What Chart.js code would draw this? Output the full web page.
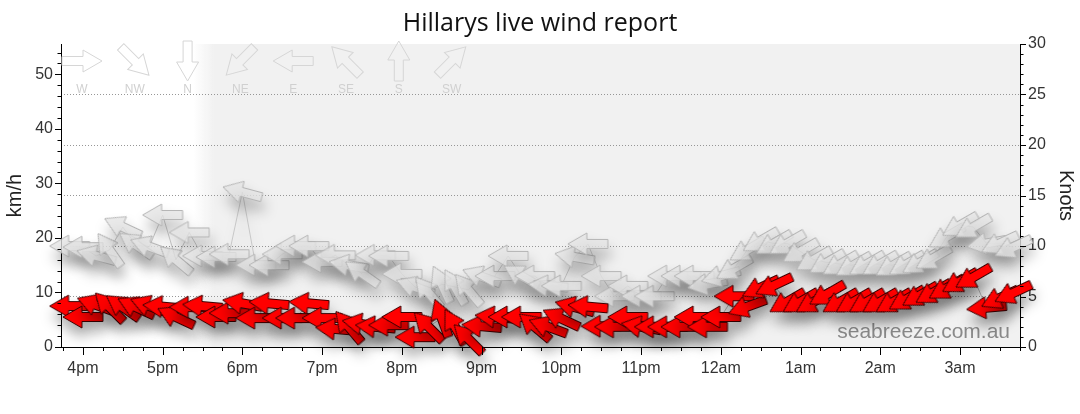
<!DOCTYPE html>
<html>
<head>
<meta charset="utf-8">
<title>Hillarys live wind report</title>
<script src="https://cdn.jsdelivr.net/npm/chart.js@4.4.1/dist/chart.umd.min.js"></script>
<style>
  html, body { margin: 0; padding: 0; background: #fff; }
  #wrap { width: 1080px; height: 414px; }
</style>
</head>
<body>
<div id="wrap"><canvas id="windChart" width="1080" height="414"></canvas></div>
<script>
// readings every 10 minutes, 3:50pm -> 3:40am
const times = [
  '15:50','16:00','16:10','16:20','16:30','16:40','16:50',
  '17:00','17:10','17:20','17:30','17:40','17:50',
  '18:00','18:10','18:20','18:30','18:40','18:50',
  '19:00','19:10','19:20','19:30','19:40','19:50',
  '20:00','20:10','20:20','20:30','20:40','20:50',
  '21:00','21:10','21:20','21:30','21:40','21:50',
  '22:00','22:10','22:20','22:30','22:40','22:50',
  '23:00','23:10','23:20','23:30','23:40','23:50',
  '00:00','00:10','00:20','00:30','00:40','00:50',
  '01:00','01:10','01:20','01:30','01:40','01:50',
  '02:00','02:10','02:20','02:30','02:40','02:50',
  '03:00','03:10','03:20','03:30','03:40'
];
// average wind, km/h and direction it blows from (degrees)
const avgKmh = [
  7.5, 5.5, 7.7, 7.3, 7.3, 7.3, 7.5,
  7.4, 5.5, 7.3, 7.5, 5.5, 6.2,
  8.0, 5.3, 8.0, 5.3, 5.3, 8.0,
  5.3, 3.3, 3.7, 4.2, 3.7, 4.0,
  5.5, 1.8, 3.7, 5.3, 3.7, 1.5,
  3.8, 5.5, 5.5, 5.5, 3.7, 3.7,
  5.2, 7.3, 7.4, 3.8, 3.7, 5.5,
  3.7, 3.7, 3.7, 3.7, 5.5, 3.7,
  5.5, 9.3, 7.4, 10.9, 11.3, 8.3,
  8.3, 8.3, 9.7, 8.3, 8.3, 8.3,
  8.3, 8.3, 8.8, 9.5, 10.0, 10.8,
  12.0, 12.8, 7.2, 9.0, 9.9
];
const avgDir = [
  90, 90, 110, 135, 125, 115, 110,
  95, 115, 90, 95, 90, 90,
  100, 90, 95, 90, 90, 95,
  90, 95, 140, 100, 95, 90,
  90, 90, 135, 160, 150, 135,
  95, 95, 90, 90, 130, 110,
  115, 105, 95, 90, 90, 90,
  100, 90, 90, 90, 90, 90,
  90, 90, 70, 65, 65, 60,
  60, 60, 60, 60, 60, 60,
  60, 60, 60, 60, 60, 60,
  60, 60, 85, 65, 65
];
// gusts
const gustKmh = [
  18.5, 18.3, 16.7, 17.8, 22.0, 18.7, 18.4,
  24.2, 16.0, 21.0, 16.7, 16.5, 17.0,
  28.4, 15.0, 15.0, 17.0, 18.5, 18.5,
  15.6, 16.8, 15.0, 13.5, 16.8, 16.7,
  13.4, 11.0, 10.0, 11.5, 11.0, 10.5,
  12.9, 13.0, 16.7, 13.0, 13.0, 11.2,
  11.2, 16.5, 18.9, 13.0, 9.3, 11.2,
  9.3, 9.3, 13.0, 13.0, 13.0, 11.5,
  13.0, 14.4, 17.8, 19.5, 19.0, 19.0,
  17.5, 16.0, 15.5, 15.2, 15.0, 15.2,
  15.2, 15.0, 15.2, 15.5, 16.3, 20.2,
  22.3, 22.0, 19.0, 19.0, 18.3
];
const gustDir = [
  90, 90, 105, 145, 115, 125, 110,
  90, 130, 90, 90, 90, 90,
  105, 90, 90, 90, 90, 90,
  90, 90, 100, 125, 90, 90,
  90, 110, 140, 155, 150, 140,
  110, 90, 90, 120, 90, 95,
  90, 100, 90, 90, 90, 90,
  90, 90, 90, 90, 90, 80,
  75, 60, 60, 60, 60, 60,
  60, 60, 60, 60, 60, 60,
  60, 60, 60, 60, 60, 60,
  60, 60, 80, 65, 65
];
const compassNames = ['W', 'NW', 'N', 'NE', 'E', 'SE', 'S', 'SW'];
const compassDirs = [270, 315, 0, 45, 90, 135, 180, 225];

const KMH_PER_KNOT = 1.852;
const MAX_KNOTS = 30;
const xMin = 15.725, xMax = 27.753;   // hours, past midnight counted as 24+
const nightFrom = 17.38, nightTo = 17.65;

function toHours(t) {
  let [h, m] = t.split(':').map(Number);
  if (h < 12) h += 24;
  return h + m / 60;
}
function hourLabel(v) {
  const h = v % 24;
  if (h === 0) return '12am';
  if (h === 12) return '12pm';
  return h < 12 ? h + 'am' : (h - 12) + 'pm';
}

// arrow outline pointing up, centred on (0,0)
function arrowPath(g) {
  const L = 40, headL = 19, headW = 22, shaftW = 9;
  g.beginPath();
  g.moveTo(0, -L / 2);
  g.lineTo(headW / 2, -L / 2 + headL);
  g.lineTo(shaftW / 2, -L / 2 + headL);
  g.lineTo(shaftW / 2, L / 2);
  g.lineTo(-shaftW / 2, L / 2);
  g.lineTo(-shaftW / 2, -L / 2 + headL);
  g.lineTo(-headW / 2, -L / 2 + headL);
  g.closePath();
}
function makeArrow(fill, stroke) {
  const c = document.createElement('canvas');
  c.width = 26; c.height = 44;
  const g = c.getContext('2d');
  g.translate(13, 22);
  arrowPath(g);
  g.fillStyle = fill;
  g.fill();
  g.lineWidth = 1;
  g.strokeStyle = stroke;
  g.stroke();
  return c;
}
const redArrow = makeArrow('#ff0000', '#3a0000');
const greyArrow = makeArrow('rgba(228,228,228,0.78)', 'rgba(180,180,180,1)');

const xs = times.map(toHours);
const avgPoints = xs.map((x, i) => ({ x: x, y: avgKmh[i] }));
const gustPoints = xs.map((x, i) => ({ x: x, y: gustKmh[i] }));

const quarterTicks = [];
for (let v = Math.ceil(xMin * 4) / 4; v <= xMax; v += 0.25) quarterTicks.push({ value: v });

const labelFont = { family: "'Liberation Sans', Arial, sans-serif", size: 16 };

const nightShade = {
  id: 'nightShade',
  beforeDraw(chart) {
    const { ctx, chartArea: a, scales: { x } } = chart;
    const x0 = x.getPixelForValue(nightFrom), x1 = x.getPixelForValue(nightTo);
    const g = ctx.createLinearGradient(x0, 0, x1, 0);
    g.addColorStop(0, 'rgba(241,241,241,0)');
    g.addColorStop(1, 'rgba(241,241,241,1)');
    ctx.save();
    ctx.fillStyle = g;
    ctx.fillRect(x0, a.top, a.right - x0, a.bottom - a.top);
    ctx.restore();
  }
};

const decorations = {
  id: 'decorations',
  beforeDatasetsDraw(chart) {
    const { ctx, chartArea: a } = chart;
    ctx.save();
    // watermark
    ctx.font = "21px 'Liberation Sans', Arial, sans-serif";
    ctx.fillStyle = '#8a8a8a';
    ctx.textAlign = 'right';
    ctx.textBaseline = 'alphabetic';
    ctx.fillText('seabreeze.com.au', a.right - 10, a.bottom - 9);
    // compass key
    ctx.strokeStyle = '#d6d6d6';
    ctx.lineWidth = 1;
    ctx.fillStyle = '#d0d0d0';
    ctx.font = "12px 'Liberation Sans', Arial, sans-serif";
    ctx.textAlign = 'center';
    ctx.textBaseline = 'middle';
    compassNames.forEach((name, i) => {
      const cx = a.left + 21 + i * 52.8;
      ctx.save();
      ctx.translate(cx, a.top + 17);
      ctx.rotate((compassDirs[i] + 180) * Math.PI / 180);
      arrowPath(ctx);
      ctx.stroke();
      ctx.restore();
      ctx.fillText(name, cx, a.top + 46);
    });
    ctx.restore();
  }
};

const arrowShadow = {
  id: 'arrowShadow',
  beforeDatasetDraw(chart) {
    const ctx = chart.ctx;
    ctx.save();
    ctx.shadowColor = 'rgba(0,0,0,0.32)';
    ctx.shadowBlur = 13;
    ctx.shadowOffsetX = 2;
    ctx.shadowOffsetY = 10;
  },
  afterDatasetDraw(chart) {
    chart.ctx.restore();
  }
};

const tickMarks = {
  id: 'tickMarks',
  afterDraw(chart) {
    const { ctx, chartArea: a, scales: { x, y, y2 } } = chart;
    ctx.save();
    ctx.strokeStyle = '#000';
    ctx.lineWidth = 1;
    ctx.beginPath();
    x.ticks.forEach(t => {
      const px = Math.round(x.getPixelForValue(t.value)) + 0.5;
      const len = Number.isInteger(t.value) ? 8 : 4;
      ctx.moveTo(px, a.bottom);
      ctx.lineTo(px, a.bottom + len);
    });
    y.ticks.forEach(t => {
      const py = Math.round(y.getPixelForValue(t.value)) + 0.5;
      const len = t.value % 10 === 0 ? 6 : 3.5;
      ctx.moveTo(a.left, py);
      ctx.lineTo(a.left - len, py);
    });
    y2.ticks.forEach(t => {
      const py = Math.round(y2.getPixelForValue(t.value)) + 0.5;
      const len = t.value % 5 === 0 ? 6 : 3.5;
      ctx.moveTo(a.right, py);
      ctx.lineTo(a.right + len, py);
    });
    ctx.stroke();
    ctx.restore();
  }
};

new Chart(document.getElementById('windChart').getContext('2d'), {
  type: 'scatter',
  data: {
    datasets: [{
      label: 'Average',
      data: avgPoints,
      yAxisID: 'y',
      showLine: true,
      borderColor: 'rgba(150,150,150,0.7)',
      borderWidth: 1,
      pointStyle: redArrow,
      pointRadius: 20,
      pointRotation: ctx => avgDir[ctx.dataIndex] + 180,
      clip: false
    }, {
      label: 'Gust',
      data: gustPoints,
      yAxisID: 'y',
      showLine: true,
      borderColor: 'rgba(190,190,190,0.8)',
      borderWidth: 1,
      pointStyle: greyArrow,
      pointRadius: 20,
      pointRotation: ctx => gustDir[ctx.dataIndex] + 180,
      clip: false
    }]
  },
  options: {
    responsive: false,
    devicePixelRatio: 1,
    animation: false,
    events: [],
    layout: { padding: 0 },
    plugins: {
      legend: { display: false },
      tooltip: { enabled: false },
      title: {
        display: true,
        text: 'Hillarys live wind report',
        color: '#111',
        font: { family: "'Open Sans', sans-serif", size: 25, weight: 'normal', lineHeight: 1.2 },
        padding: { top: 9, bottom: 5 }
      }
    },
    scales: {
      x: {
        type: 'linear',
        min: xMin,
        max: xMax,
        afterBuildTicks: s => { s.ticks = quarterTicks.slice(); },
        afterFit: s => { s.height = 67; },
        ticks: {
          autoSkip: false,
          maxRotation: 0,
          padding: 12,
          color: '#333',
          font: labelFont,
          callback: v => Number.isInteger(v) ? hourLabel(v) : ''
        },
        grid: { display: false, drawTicks: false },
        border: { display: true, color: '#000', width: 1 }
      },
      y: {
        position: 'left',
        min: 0,
        max: MAX_KNOTS * KMH_PER_KNOT,
        afterFit: s => { s.width = 61; },
        ticks: {
          stepSize: 2,
          includeBounds: false,
          autoSkip: false,
          padding: 8,
          color: '#333',
          font: labelFont,
          callback: v => v % 10 === 0 ? String(v) : ''
        },
        grid: { display: false, drawTicks: false },
        border: { display: true, color: '#000', width: 1 },
        title: {
          display: true,
          text: 'km/h',
          color: '#222',
          font: { family: "'Liberation Sans', Arial, sans-serif", size: 20 },
          padding: { top: 3, bottom: 0 }
        }
      },
      y2: {
        position: 'right',
        min: 0,
        max: MAX_KNOTS,
        afterFit: s => { s.width = 60; },
        ticks: {
          stepSize: 1,
          autoSkip: false,
          padding: 8,
          color: '#333',
          font: labelFont,
          callback: v => v % 5 === 0 ? String(v) : ''
        },
        grid: {
          display: true,
          drawTicks: false,
          lineWidth: 1,
          color: c => (c.tick && c.tick.value % 5 === 0 && c.tick.value > 0 && c.tick.value < MAX_KNOTS)
            ? 'rgba(140,140,140,0.9)' : 'rgba(0,0,0,0)'
        },
        border: { display: true, color: '#000', width: 1, dash: [1, 2] },
        title: {
          display: true,
          text: 'Knots',
          color: '#222',
          font: { family: "'Liberation Sans', Arial, sans-serif", size: 20 },
          padding: { top: 2, bottom: 0 }
        }
      }
    }
  },
  plugins: [nightShade, decorations, arrowShadow, tickMarks]
});
</script>
</body>
</html>
